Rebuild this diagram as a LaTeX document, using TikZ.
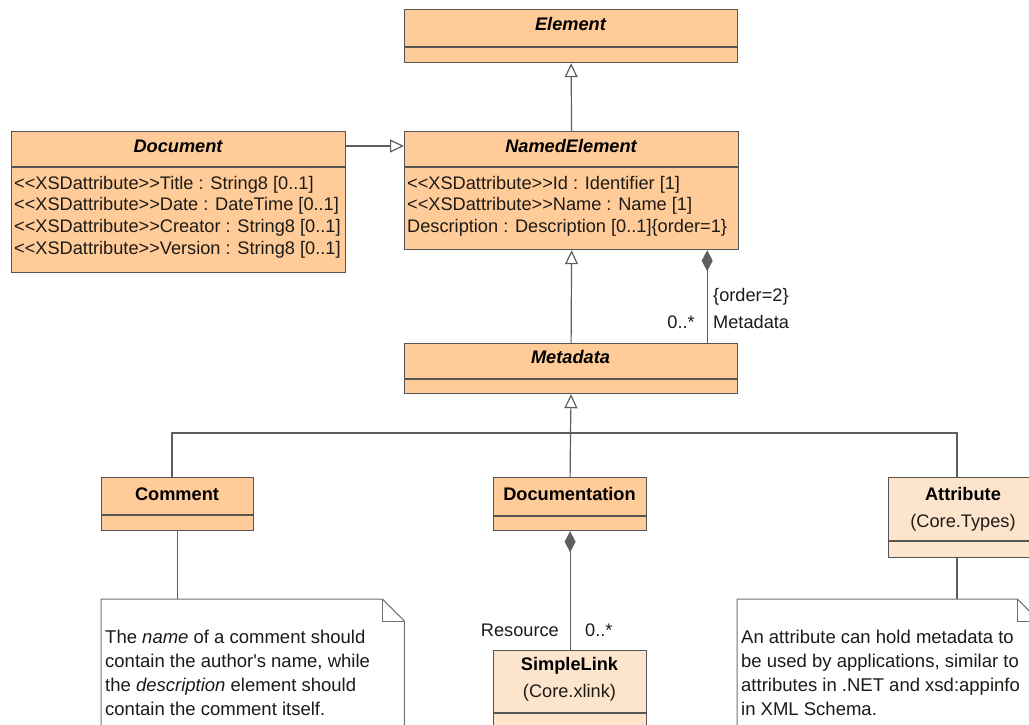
\documentclass[tikz,border=0pt]{standalone}
\usepackage{fontspec}
\setmainfont{Liberation Sans}
\usetikzlibrary{arrows.meta}
\definecolor{clsfill}{HTML}{FFCC99}
\definecolor{litefill}{HTML}{FCE4CD}
\definecolor{edgec}{HTML}{555555}
\definecolor{wirec}{HTML}{5E5E5E}
\definecolor{notec}{HTML}{707070}
\definecolor{inkc}{HTML}{1E1A16}
\newcommand\umlfont{\fontsize{18.2}{21.7}\selectfont}
\newcommand\notefont{\fontsize{18.5}{24}\selectfont}
\begin{document}
\begin{tikzpicture}[x=1pt,y=-1pt,
  classbox/.style={draw=edgec, fill=clsfill, line width=1.2pt, inner sep=0, anchor=north west},
  litebox/.style={classbox, fill=litefill},
  sep/.style={draw=edgec, line width=1.2pt},
  title/.style={inner sep=0, anchor=base, font=\umlfont\bfseries\itshape, text=black},
  ctitle/.style={inner sep=0, anchor=base, font=\umlfont\bfseries, text=black},
  pkg/.style={inner sep=0, anchor=base, font=\umlfont, text=inkc},
  attr/.style={inner sep=0, anchor=base west, font=\umlfont, text=inkc},
  lbl/.style={inner sep=0, font=\umlfont, text=inkc},
  wire/.style={draw=wirec, line width=1.2pt},
  gen/.style={wire, -{Triangle[length=14pt, width=13pt, fill=white]}},
  comp/.style={wire, {Diamond[length=21pt, width=11pt, fill=wirec]}-},
  notebox/.style={inner sep=0, anchor=north west},
  noteline/.style={draw=notec, line width=1pt, fill=white},
  notetext/.style={inner sep=0, anchor=north west, align=left, font=\notefont, text=inkc}]
\useasboundingbox (0,0) rectangle (1029,724);
\clip (0,0) rectangle (1029,724);

% ---- classes ----
\node[classbox, minimum width=333pt, minimum height=53pt] (element) at (404,9) {};
\draw[sep] (element.west |- 0,47) -- (element.east |- 0,47);
\node[title] (elementname) at (570.5,30) {Element};

\node[classbox, minimum width=334pt, minimum height=141pt] (document) at (11,131) {};
\draw[sep] (document.west |- 0,167) -- (document.east |- 0,167);
\node[title] (documentname) at (178,152) {Document};
\node[attr] (doca1) at (14,189) {<{}<XSDattribute>{}>Title : String8 [0..1]};
\node[attr] (doca2) at (14,210.7) {<{}<XSDattribute>{}>Date : DateTime [0..1]};
\node[attr] (doca3) at (14,232.4) {<{}<XSDattribute>{}>Creator : String8 [0..1]};
\node[attr] (doca4) at (14,254.1) {<{}<XSDattribute>{}>Version : String8 [0..1]};

\node[classbox, minimum width=334pt, minimum height=118pt] (named) at (404,131) {};
\draw[sep] (named.west |- 0,167) -- (named.east |- 0,167);
\node[title] (namedname) at (571,152) {NamedElement};
\node[attr] (nea1) at (407,189) {<{}<XSDattribute>{}>Id : Identifier [1]};
\node[attr] (nea2) at (407,210.7) {<{}<XSDattribute>{}>Name : Name [1]};
\node[attr] (nea3) at (407,232.4) {Description : Description [0..1]\{order=1\}};

\node[classbox, minimum width=333pt, minimum height=50pt] (metadata) at (404,343) {};
\draw[sep] (metadata.west |- 0,379) -- (metadata.east |- 0,379);
\node[title] (metadataname) at (570.5,363) {Metadata};

\node[classbox, minimum width=152pt, minimum height=53pt] (comment) at (101,477) {};
\draw[sep] (comment.west |- 0,515) -- (comment.east |- 0,515);
\node[ctitle] (commentname) at (177,500) {Comment};

\node[classbox, minimum width=153pt, minimum height=53pt] (documentation) at (493,477) {};
\draw[sep] (documentation.west |- 0,516) -- (documentation.east |- 0,516);
\node[ctitle] (documentationname) at (569.5,500) {Documentation};

\node[litebox, minimum width=150pt, minimum height=80pt] (attribute) at (888,477) {};
\draw[sep] (attribute.west |- 0,541) -- (attribute.east |- 0,541);
\node[ctitle] (attributename) at (963,500) {Attribute};
\node[pkg] (attributepkg) at (963,527) {(Core.Types)};

\node[litebox, minimum width=153pt, minimum height=110pt] (simplelink) at (493,650) {};
\draw[sep] (simplelink.west |- 0,713) -- (simplelink.east |- 0,713);
\node[ctitle] (simplelinkname) at (569.5,670) {SimpleLink};
\node[pkg] (simplelinkpkg) at (569.5,697) {(Core.xlink)};

% ---- notes ----
\node[notebox, minimum width=303pt, minimum height=150pt] (note1) at (101,599) {};
\draw[noteline] (note1.north west) -- ([xshift=-22pt]note1.north east)
  -- ([yshift=-22pt]note1.north east) -- (note1.south east) -- (note1.south west) -- cycle;
\draw[noteline, fill=none] ([xshift=-22pt]note1.north east) |- ([yshift=-22pt]note1.north east);
\node[notetext] (note1text) at (105,630) {The \textit{name} of a comment should\\contain the author\textquotesingle s name, while\\the \textit{description} element should\\contain the comment itself.};

\node[notebox, minimum width=302pt, minimum height=150pt] (note2) at (737,599) {};
\draw[noteline] (note2.north west) -- ([xshift=-22pt]note2.north east)
  -- ([yshift=-22pt]note2.north east) -- (note2.south east) -- (note2.south west) -- cycle;
\draw[noteline, fill=none] ([xshift=-22pt]note2.north east) |- ([yshift=-22pt]note2.north east);
\node[notetext] (note2text) at (741,630) {An attribute can hold metadata to\\be used by applications, similar to\\attributes in .NET and xsd:appinfo\\in XML Schema.};

% ---- connectors ----
\draw[gen] (named.north) -- (element.south);
\draw[gen] ([yshift=-15pt]document.north east) -- ([yshift=-15pt]named.north west);
\draw[gen] (metadata.north) -- (named.south);
\draw[comp] ([xshift=-32pt]named.south east) -- ([xshift=-31pt]metadata.north east);
\node[lbl, anchor=base west] (order2) at (713,301) {\{order=2\}};
\node[lbl, anchor=base west] (metarole) at (713,328) {Metadata};
\node[lbl, anchor=base east] (metamult) at (695,328) {0..*};

\coordinate (bus) at (570.5,433);
\coordinate (busL) at (172,433);
\coordinate (busR) at (957,433);
\draw[gen] (bus) -- (metadata.south);
\draw[wire] (comment.north -| busL) -- (busL) -- (busR) -- (attribute.north -| busR);
\draw[wire] (documentation.north) -- (bus);

\draw[wire] (comment.south) -- (comment.south |- note1.north);
\draw[wire] (attribute.south -| busR) -- (note2.north -| busR);

\draw[comp] (documentation.south) -- (simplelink.north);
\node[lbl, anchor=base east] (resrole) at (559,636) {Resource};
\node[lbl, anchor=base west] (resmult) at (585,636) {0..*};
\end{tikzpicture}
\end{document}
